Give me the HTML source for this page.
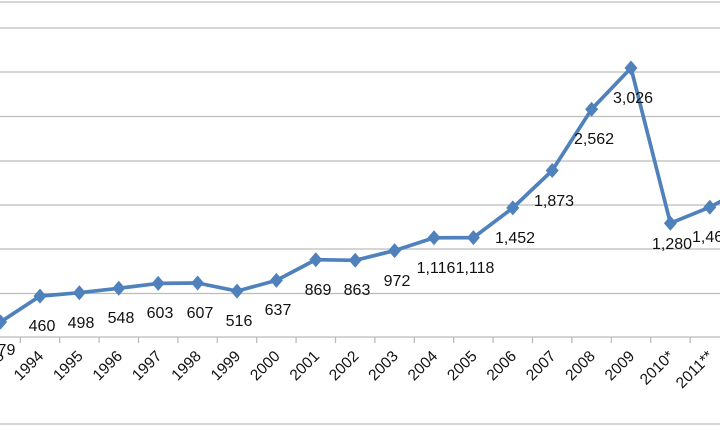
<!DOCTYPE html>
<html><head><meta charset="utf-8"><style>
html,body{margin:0;padding:0;background:#fff;}
svg{display:block;}
text{font-family:"Liberation Sans",sans-serif;fill:#111;}
</style></head><body>
<svg width="720" height="426" viewBox="0 0 720 426">
<defs><path id="d" d="M0 -7.5L6.5 0L0 7.5L-6.5 0Z" fill="#4f81bd"/></defs>
<g stroke="#bcbcbc" stroke-width="1.3">
<line x1="0" y1="2" x2="720" y2="2"/>
<line x1="0" y1="28" x2="720" y2="28"/>
<line x1="0" y1="72" x2="720" y2="72"/>
<line x1="0" y1="116.5" x2="720" y2="116.5"/>
<line x1="0" y1="161" x2="720" y2="161"/>
<line x1="0" y1="205" x2="720" y2="205"/>
<line x1="0" y1="249" x2="720" y2="249"/>
<line x1="0" y1="293.5" x2="720" y2="293.5"/>
<line x1="0" y1="337" x2="720" y2="337"/>
<line x1="0" y1="424" x2="720" y2="424"/>
<line x1="20.3" y1="337" x2="20.3" y2="343"/>
<line x1="59.7" y1="337" x2="59.7" y2="343"/>
<line x1="99.1" y1="337" x2="99.1" y2="343"/>
<line x1="138.5" y1="337" x2="138.5" y2="343"/>
<line x1="177.9" y1="337" x2="177.9" y2="343"/>
<line x1="217.3" y1="337" x2="217.3" y2="343"/>
<line x1="256.7" y1="337" x2="256.7" y2="343"/>
<line x1="296.1" y1="337" x2="296.1" y2="343"/>
<line x1="335.5" y1="337" x2="335.5" y2="343"/>
<line x1="374.9" y1="337" x2="374.9" y2="343"/>
<line x1="414.3" y1="337" x2="414.3" y2="343"/>
<line x1="453.7" y1="337" x2="453.7" y2="343"/>
<line x1="493.1" y1="337" x2="493.1" y2="343"/>
<line x1="532.5" y1="337" x2="532.5" y2="343"/>
<line x1="571.9" y1="337" x2="571.9" y2="343"/>
<line x1="611.3" y1="337" x2="611.3" y2="343"/>
<line x1="650.7" y1="337" x2="650.7" y2="343"/>
<line x1="690.1" y1="337" x2="690.1" y2="343"/>
</g>
<polyline fill="none" stroke="#4f81bd" stroke-width="3.7" stroke-linejoin="round" points="0.6,322 40,296.1 79.4,292.7 118.8,288.3 158.2,283.4 197.6,283 237,291.1 276.4,280.4 315.8,259.7 355.2,260.3 394.6,250.6 434,237.8 473.4,237.6 512.8,207.9 552.2,170.5 591.6,109.2 631,68 670.4,223.2 709.8,207.2 749.2,185.9"/>
<use href="#d" x="0.6" y="322"/>
<use href="#d" x="40" y="296.1"/>
<use href="#d" x="79.4" y="292.7"/>
<use href="#d" x="118.8" y="288.3"/>
<use href="#d" x="158.2" y="283.4"/>
<use href="#d" x="197.6" y="283"/>
<use href="#d" x="237" y="291.1"/>
<use href="#d" x="276.4" y="280.4"/>
<use href="#d" x="315.8" y="259.7"/>
<use href="#d" x="355.2" y="260.3"/>
<use href="#d" x="394.6" y="250.6"/>
<use href="#d" x="434" y="237.8"/>
<use href="#d" x="473.4" y="237.6"/>
<use href="#d" x="512.8" y="207.9"/>
<use href="#d" x="552.2" y="170.5"/>
<use href="#d" x="591.6" y="109.2"/>
<use href="#d" x="631" y="68"/>
<use href="#d" x="670.4" y="223.2"/>
<use href="#d" x="709.8" y="207.2"/>
<g font-size="16" text-anchor="middle">
<text x="2" y="355">379</text>
<text x="42" y="331">460</text>
<text x="81" y="328">498</text>
<text x="121" y="323">548</text>
<text x="160" y="318">603</text>
<text x="200" y="318">607</text>
<text x="239" y="326">516</text>
<text x="278" y="315">637</text>
<text x="318" y="295">869</text>
<text x="357" y="295">863</text>
<text x="397" y="286">972</text>
<text x="436" y="273">1,116</text>
<text x="475" y="273">1,118</text>
<text x="515" y="243">1,452</text>
<text x="554" y="206">1,873</text>
<text x="594" y="144">2,562</text>
<text x="633" y="103">3,026</text>
<text x="672" y="249">1,280</text>
<text x="712" y="242">1,460</text>
</g>
<g font-size="15.5" text-anchor="end">
<text transform="translate(5,357) rotate(-45)">1993</text>
<text transform="translate(44.4,357) rotate(-45)">1994</text>
<text transform="translate(83.8,357) rotate(-45)">1995</text>
<text transform="translate(123.2,357) rotate(-45)">1996</text>
<text transform="translate(162.6,357) rotate(-45)">1997</text>
<text transform="translate(202,357) rotate(-45)">1998</text>
<text transform="translate(241.4,357) rotate(-45)">1999</text>
<text transform="translate(280.8,357) rotate(-45)">2000</text>
<text transform="translate(320.2,357) rotate(-45)">2001</text>
<text transform="translate(359.6,357) rotate(-45)">2002</text>
<text transform="translate(399,357) rotate(-45)">2003</text>
<text transform="translate(438.4,357) rotate(-45)">2004</text>
<text transform="translate(477.8,357) rotate(-45)">2005</text>
<text transform="translate(517.2,357) rotate(-45)">2006</text>
<text transform="translate(556.6,357) rotate(-45)">2007</text>
<text transform="translate(596,357) rotate(-45)">2008</text>
<text transform="translate(635.4,357) rotate(-45)">2009</text>
<text transform="translate(674.8,357) rotate(-45)">2010*</text>
<text transform="translate(714.2,357) rotate(-45)">2011**</text>
<text transform="translate(753.6,357) rotate(-45)">2012</text>
</g>
</svg>
</body></html>
